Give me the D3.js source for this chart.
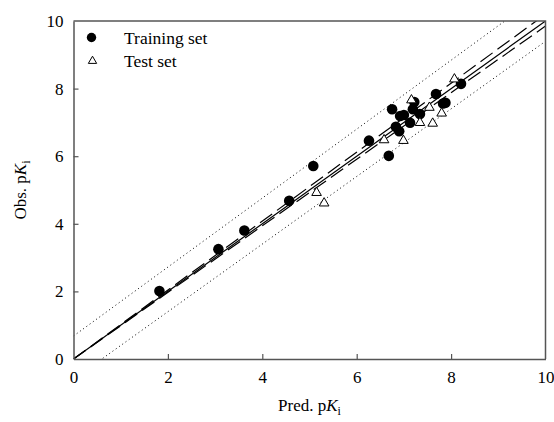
<!DOCTYPE html>
<html>
<head>
<meta charset="utf-8">
<script src="https://cdn.jsdelivr.net/npm/d3@7"></script>
<style>
  body { margin: 0; background: #fff; }
  text { font-family: 'Liberation Serif', 'Times New Roman', serif; }
</style>
</head>
<body>
<div id="chart"></div>
<script>
// pred / obs pKi pairs
const trainingPred = [1.82, 3.07, 3.62, 4.57, 5.08, 6.26, 6.68, 6.75, 6.83, 6.90, 6.92, 7.00, 7.13, 7.19, 7.22, 7.34, 7.68, 7.83, 7.88, 8.21];
const trainingObs = [2.01, 3.25, 3.80, 4.68, 5.71, 6.46, 6.01, 7.39, 6.87, 6.74, 7.19, 7.22, 6.99, 7.39, 7.60, 7.25, 7.84, 7.56, 7.58, 8.14];
const testPred = [5.15, 5.31, 6.58, 6.99, 7.16, 7.34, 7.54, 7.61, 7.80, 8.07];
const testObs = [4.92, 4.61, 6.48, 6.46, 7.66, 6.99, 7.44, 6.97, 7.27, 8.28];

const xTicks = [0, 2, 4, 6, 8, 10];
const yTicks = [0, 2, 4, 6, 8, 10];

// lines: y = intercept + slope * x
const solidLine = { intercept: 0, slope: 1 };
const dashedLines = [
  { intercept: 0, slope: 1.02 },
  { intercept: 0, slope: 0.985 },
];
const dottedLines = [
  { intercept: 0.68, slope: 1.02 },
  { intercept: -0.6, slope: 1.0 },
];

const width = 554;
const height = 422;
const margin = { top: 21, right: 8.5, bottom: 63, left: 73.5 };
const axisColor = '#555';

const svg = d3.select('#chart')
  .append('svg')
  .attr('width', width)
  .attr('height', height);

const x = d3.scaleLinear()
  .domain([0, 10])
  .range([margin.left, width - margin.right]);

const y = d3.scaleLinear()
  .domain([0, 10])
  .range([height - margin.bottom, margin.top]);

svg.append('clipPath')
  .attr('id', 'plotClip')
  .append('rect')
  .attr('x', x(0))
  .attr('y', y(10))
  .attr('width', x(10) - x(0))
  .attr('height', y(0) - y(10));

const plot = svg.append('g').attr('clip-path', 'url(#plotClip)');

function drawLine(l, dash, strokeWidth) {
  plot.append('path')
    .datum([0, 10].map(v => [v, l.intercept + l.slope * v]))
    .attr('fill', 'none')
    .attr('stroke', '#000')
    .attr('stroke-width', strokeWidth)
    .attr('stroke-dasharray', dash)
    .attr('d', d3.line().x(d => x(d[0])).y(d => y(d[1])));
}

dottedLines.forEach(l => drawLine(l, '1,3', 1));
dashedLines.forEach(l => drawLine(l, '15,6', 1.2));
drawLine(solidLine, null, 1.2);

// frame (top/right)
svg.append('path')
  .attr('d', `M${x(0)},${y(10)}H${x(10)}V${y(0)}`)
  .attr('fill', 'none')
  .attr('stroke', axisColor)
  .attr('stroke-width', 1.5);

const xAxis = svg.append('g')
  .attr('transform', `translate(0,${y(0)})`)
  .call(d3.axisBottom(x).tickValues(xTicks).tickSizeInner(-5).tickSizeOuter(0).tickPadding(12));

const yAxis = svg.append('g')
  .attr('transform', `translate(${x(0)},0)`)
  .call(d3.axisLeft(y).tickValues(yTicks).tickSizeInner(-5).tickSizeOuter(0).tickPadding(10));

[xAxis, yAxis].forEach((a) => {
  a.attr('font-family', "'Liberation Serif', serif");
  a.select('.domain').attr('stroke', axisColor).attr('stroke-width', 1.5);
  a.selectAll('.tick line').attr('stroke', axisColor).attr('stroke-width', 1.2);
  a.selectAll('.tick text')
    .attr('fill', '#000')
    .style('font-size', '17px')
    .style('font-family', "'Liberation Serif', serif");
});
xAxis.selectAll('.tick')
  .filter(d => d === 0 || d === 10)
  .select('line')
  .remove();
yAxis.selectAll('.tick')
  .filter(d => d === 0 || d === 10)
  .select('line')
  .remove();

// points
const trianglePath = d3.symbol().type(d3.symbolTriangle).size(40);

svg.append('g')
  .selectAll('circle')
  .data(trainingPred.map((p, i) => [p, trainingObs[i]]))
  .enter()
  .append('circle')
  .attr('cx', d => x(d[0]))
  .attr('cy', d => y(d[1]))
  .attr('r', 5.3)
  .attr('fill', '#000');

svg.append('g')
  .selectAll('path')
  .data(testPred.map((p, i) => [p, testObs[i]]))
  .enter()
  .append('path')
  .attr('d', trianglePath)
  .attr('transform', d => `translate(${x(d[0])},${y(d[1])})`)
  .attr('fill', '#fff')
  .attr('stroke', '#000')
  .attr('stroke-width', 1);

// legend
const legend = svg.append('g');
legend.append('circle')
  .attr('cx', 91.5)
  .attr('cy', 37.5)
  .attr('r', 4.7)
  .attr('fill', '#000');
legend.append('text')
  .attr('x', 124)
  .attr('y', 43.5)
  .style('font-size', '17.5px')
  .text('Training set');
legend.append('path')
  .attr('d', d3.symbol().type(d3.symbolTriangle).size(30))
  .attr('transform', 'translate(92.5,61)')
  .attr('fill', '#fff')
  .attr('stroke', '#000')
  .attr('stroke-width', 1);
legend.append('text')
  .attr('x', 124)
  .attr('y', 66.5)
  .style('font-size', '17.5px')
  .text('Test set');

// axis titles
const xTitle = svg.append('text')
  .attr('x', (x(0) + x(10)) / 2)
  .attr('y', 411)
  .attr('text-anchor', 'middle')
  .style('font-size', '17px');
xTitle.append('tspan').text('Pred. p');
xTitle.append('tspan').attr('font-style', 'italic').text('K');
xTitle.append('tspan').attr('dy', 4).style('font-size', '12px').text('i');

const yTitle = svg.append('text')
  .attr('transform', `translate(26,${(y(0) + y(10)) / 2}) rotate(-90)`)
  .attr('text-anchor', 'middle')
  .style('font-size', '17px');
yTitle.append('tspan').text('Obs. p');
yTitle.append('tspan').attr('font-style', 'italic').text('K');
yTitle.append('tspan').attr('dy', 4).style('font-size', '12px').text('i');
</script>
</body>
</html>
